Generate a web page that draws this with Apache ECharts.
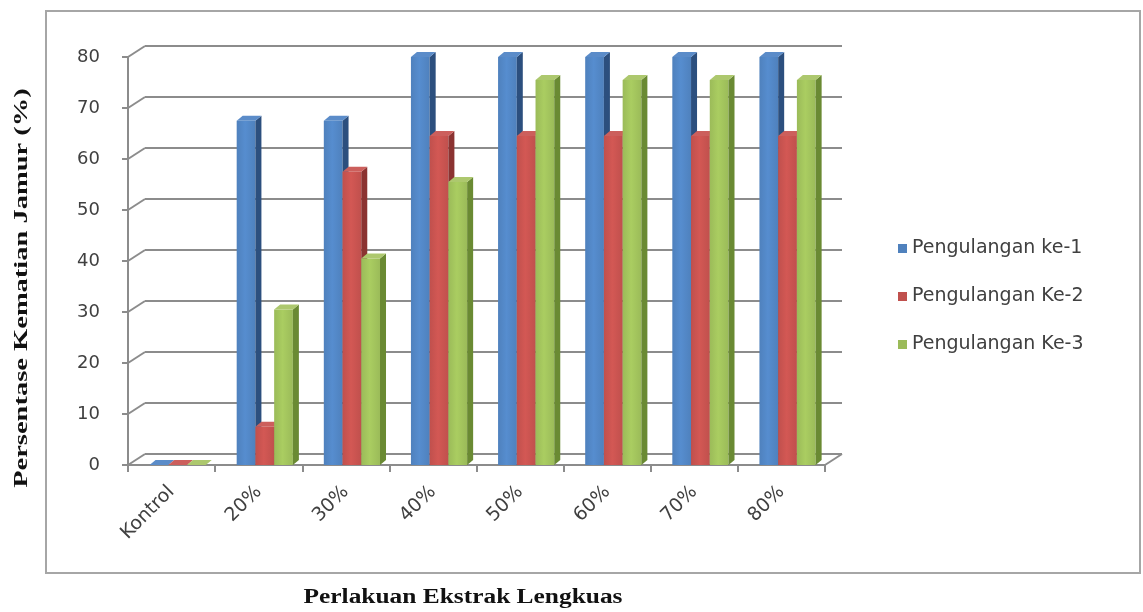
<!DOCTYPE html>
<html>
<head>
<meta charset="utf-8">
<script src="https://cdn.jsdelivr.net/npm/echarts@6/dist/echarts.min.js"></script>
<style>
  html, body { margin: 0; padding: 0; background: #fff; }
  #chart { width: 1143px; height: 612px; }
</style>
</head>
<body>
<div id="chart"></div>
<script>
// data
var categories = ["Kontrol", "20%", "30%", "40%", "50%", "60%", "70%", "80%"];
var seriesNames = ["Pengulangan ke-1", "Pengulangan Ke-2", "Pengulangan Ke-3"];
var ulangan1 = [0, 67.5, 67.5, 80, 80, 80, 80, 80];
var ulangan2 = [0, 7.5, 57.5, 64.5, 64.5, 64.5, 64.5, 64.5];
var ulangan3 = [0, 30.5, 40.5, 55.5, 75.5, 75.5, 75.5, 75.5];
var yTicks = [0, 10, 20, 30, 40, 50, 60, 70, 80];

var faces = [
    { front: "#4f81bd", side: "#2c4f7e", top: "#5b8cc9" },
    { front: "#c0504d", side: "#8b3331", top: "#cc5f5c" },
    { front: "#9bbb59", side: "#6a8a33", top: "#adc86e" }
];
var depthX = 6, depthY = 5;   // bar depth
var wallX = 17, wallY = 11;   // back wall offset
var gridColor = "#8c8c8c";

var chart = echarts.init(document.getElementById("chart"));

function barRenderer(idx) {
    return function (params, api) {
        var cat = api.value(0);
        var val = api.value(1);
        var base = api.coord([cat, 0]);
        var top = api.coord([cat, val]);
        var band = api.size([1, 0])[0];
        var w = band * 0.215;
        var x0 = base[0] + band * 0.07 + (idx - 1) * w - w / 2;
        var f = faces[idx];
        return {
            type: "group",
            children: [
                {
                    type: "rect",
                    shape: { x: x0, y: top[1], width: w, height: base[1] - top[1] },
                    style: {
                        fill: new echarts.graphic.LinearGradient(0, 0, 1, 0, [
                            { offset: 0, color: f.front },
                            { offset: 0.45, color: echarts.color.lift(f.front, -0.1) },
                            { offset: 1, color: f.front }
                        ])
                    }
                },
                {
                    type: "polygon",
                    shape: { points: [[x0 + w, top[1]], [x0 + w + depthX, top[1] - depthY], [x0 + w + depthX, base[1] - depthY], [x0 + w, base[1]]] },
                    style: { fill: f.side }
                },
                {
                    type: "polygon",
                    shape: { points: [[x0, top[1]], [x0 + depthX, top[1] - depthY], [x0 + w + depthX, top[1] - depthY], [x0 + w, top[1]]] },
                    style: { fill: f.top }
                }
            ]
        };
    };
}

function wallRenderer(params, api) {
    var val = api.value(0);
    var p = api.coord([0, val]);
    var band = api.size([1, 0])[0];
    var left = p[0] - band / 2;
    var kids = [{
        type: "line",
        shape: { x1: left, y1: p[1], x2: left + wallX, y2: p[1] - wallY },
        style: { stroke: gridColor, lineWidth: 2 }
    }];
    if (val === 0) {
        var right = left + band * categories.length;
        kids.push({
            type: "line",
            shape: { x1: right, y1: p[1], x2: right + wallX, y2: p[1] - wallY },
            style: { stroke: gridColor, lineWidth: 2 }
        });
    }
    return { type: "group", children: kids };
}

var allValues = [ulangan1, ulangan2, ulangan3];
var barSeries = allValues.map(function (vals, i) {
    return {
        name: seriesNames[i],
        type: "custom",
        xAxisIndex: 0,
        yAxisIndex: 0,
        itemStyle: { color: faces[i].front },
        renderItem: barRenderer(i),
        encode: { x: 0, y: 1 },
        data: vals.map(function (v, k) { return [k, v]; }),
        z: 3
    };
});

chart.setOption({
    animation: false,
    backgroundColor: "#fff",
    grid: [
        { left: 128, right: 318, top: 57, bottom: 147 },
        { left: 128 + wallX, right: 318 - wallX, top: 57 - wallY, bottom: 147 + wallY }
    ],
    xAxis: [
        {
            type: "category",
            gridIndex: 0,
            data: categories,
            axisLine: { lineStyle: { color: gridColor, width: 2 } },
            axisTick: { show: true, length: 7, interval: 0, lineStyle: { color: gridColor, width: 2 } },
            axisLabel: {
                rotate: 45,
                interval: 0,
                margin: 24,
                color: "#404040",
                fontFamily: "DejaVu Sans",
                fontSize: 19
            }
        },
        { type: "category", gridIndex: 1, data: categories, show: false }
    ],
    yAxis: [
        {
            type: "value",
            gridIndex: 0,
            min: 0,
            max: 80,
            interval: 10,
            axisLine: { show: true, lineStyle: { color: gridColor, width: 2 } },
            axisTick: { show: true, length: 6, lineStyle: { color: gridColor, width: 2 } },
            splitLine: { show: false },
            axisLabel: {
                margin: 28,
                color: "#404040",
                fontFamily: "DejaVu Sans",
                fontSize: 18
            }
        },
        {
            type: "value",
            gridIndex: 1,
            min: 0,
            max: 80,
            interval: 10,
            axisLine: { show: false },
            axisTick: { show: false },
            axisLabel: { show: false },
            splitLine: { show: true, lineStyle: { color: gridColor, width: 2 } }
        }
    ],
    legend: {
        orient: "vertical",
        left: 893,
        top: 234,
        itemWidth: 9,
        itemHeight: 9,
        itemGap: 29,
        icon: "rect",
        data: seriesNames,
        textStyle: { color: "#404040", fontFamily: "DejaVu Sans", fontSize: 19 }
    },
    graphic: [
        {
            type: "rect",
            shape: { x: 46, y: 11, width: 1094, height: 562 },
            style: { fill: null, stroke: "#a6a6a6", lineWidth: 2 },
            z: 0
        },
        {
            type: "text",
            x: 22,
            y: 288,
            rotation: Math.PI / 2,
            scaleX: 1.5,
            style: {
                text: "Persentase Kematian Jamur (%)",
                font: "bold 19px 'Liberation Serif'",
                fill: "#111",
                align: "center",
                verticalAlign: "middle"
            }
        },
        {
            type: "text",
            x: 463,
            y: 598,
            scaleX: 1.27,
            style: {
                text: "Perlakuan Ekstrak Lengkuas",
                font: "bold 20px 'Liberation Serif'",
                fill: "#111",
                align: "center",
                verticalAlign: "middle"
            }
        }
    ],
    series: [
        {
            name: "wall",
            type: "custom",
            xAxisIndex: 0,
            yAxisIndex: 0,
            renderItem: wallRenderer,
            encode: { y: 0 },
            data: yTicks.map(function (t) { return [t]; }),
            silent: true,
            z: 1
        }
    ].concat(barSeries)
});
</script>
</body>
</html>
